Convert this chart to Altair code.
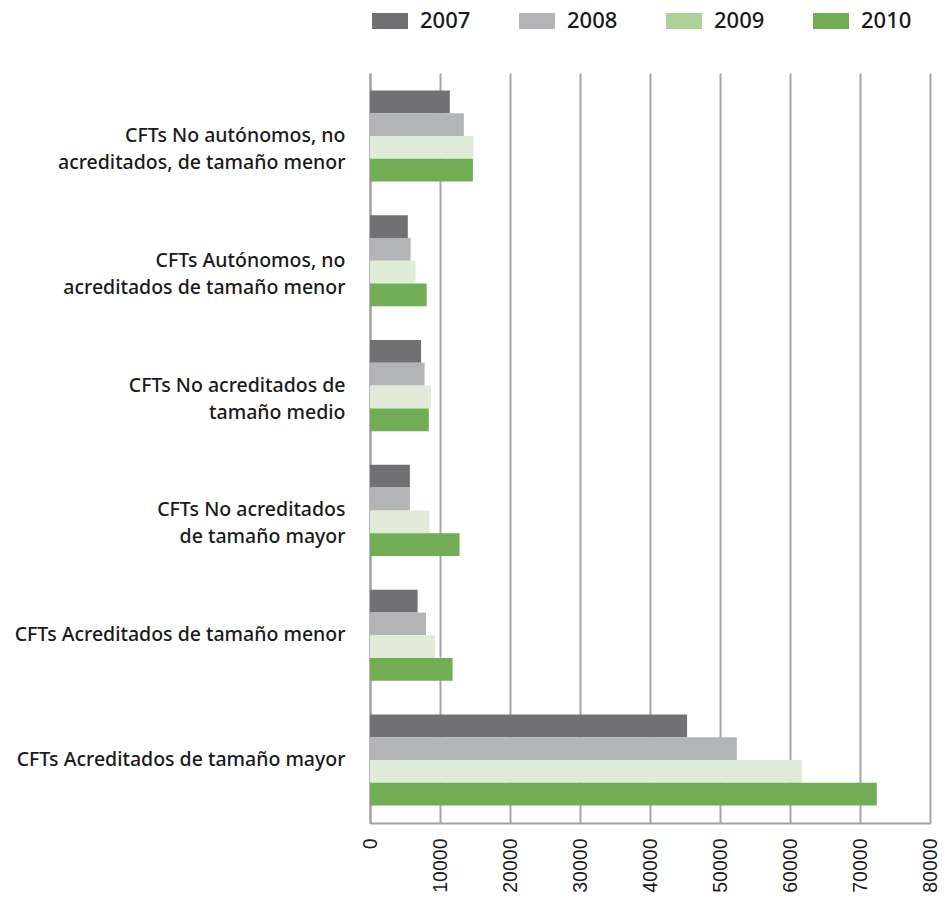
import altair as alt
import pandas as pd

categories = [
    "CFTs No autónomos, no\nacreditados, de tamaño menor",
    "CFTs Autónomos, no\nacreditados de tamaño menor",
    "CFTs No acreditados de\ntamaño medio",
    "CFTs No acreditados\nde tamaño mayor",
    "CFTs Acreditados de tamaño menor",
    "CFTs Acreditados de tamaño mayor",
]
years = ["2007", "2008", "2009", "2010"]
v2007 = [11400, 5400, 7300, 5700, 6800, 45300]
v2008 = [13400, 5800, 7800, 5700, 8000, 52400]
v2009 = [14800, 6500, 8700, 8500, 9300, 61700]
v2010 = [14700, 8100, 8400, 12800, 11800, 72400]

bar_colors = ["#717173", "#b3b4b6", "#e0ebd8", "#72ad56"]
legend_colors = ["#717173", "#b3b4b6", "#acd29a", "#72ad56"]

rows = []
for yr, vals in zip(years, [v2007, v2008, v2009, v2010]):
    for c, v in zip(categories, vals):
        rows.append({"Categoria": c, "Año": yr, "Valor": v})
df = pd.DataFrame(rows)

x_axis = alt.Axis(
    values=list(range(0, 80001, 10000)), format="d", title=None,
    grid=True, gridColor="#a6a6a6", gridWidth=2, ticks=False,
    labelAngle=270, labelFont="Liberation Sans", labelFontSize=19.5,
    labelColor="#1a1a1a", labelPadding=15, domainColor="#a0a0a0", domainWidth=2,
)
y_axis = alt.Axis(
    title=None, ticks=False, labelFont="Noto Sans", labelFontSize=19.5, labelFontWeight=500,
    labelColor="#1a1a1a", labelPadding=25, labelLimit=400, labelLineHeight=27,
    labelExpr="split(datum.value, '\\n')", domainColor="#a0a0a0", domainWidth=2,
)

bars = alt.Chart(df).mark_bar().encode(
    x=alt.X("Valor:Q", scale=alt.Scale(domain=[0, 80000], nice=False), axis=x_axis),
    y=alt.Y("Categoria:N", sort=categories, axis=y_axis,
            scale=alt.Scale(paddingInner=0.27, paddingOuter=0.14)),
    yOffset=alt.YOffset("Año:N", sort=years, scale=alt.Scale(paddingInner=0, paddingOuter=0)),
    color=alt.Color("Año:N", sort=years, scale=alt.Scale(domain=years, range=bar_colors), legend=None),
)

legend_layer = alt.Chart(df).transform_calculate(zero="0").mark_bar().encode(
    x=alt.X("zero:Q"),
    color=alt.Color(
        "Año:N", sort=years, scale=alt.Scale(domain=years, range=legend_colors),
        legend=alt.Legend(
            title=None, orient="none", legendX=9, legendY=-63, direction="horizontal",
            symbolType="M-2,-0.889H2V0.889H-2Z", symbolSize=324, symbolStrokeWidth=0,
            symbolOpacity=1,
            labelFont="Noto Sans", labelFontSize=22, labelFontWeight=500, labelColor="#1a1a1a",
            labelOffset=19, columnPadding=48,
        ),
    ),
)

chart = alt.layer(bars, legend_layer).resolve_scale(color="independent").properties(
    width=560, height=750,
    autosize=alt.AutoSizeParams(type="none"),
    padding={"left": 362, "top": 65, "right": 9, "bottom": 70},
).configure_view(stroke=None)

chart.save("out.html", embed_options={"renderer": "svg", "actions": False})
